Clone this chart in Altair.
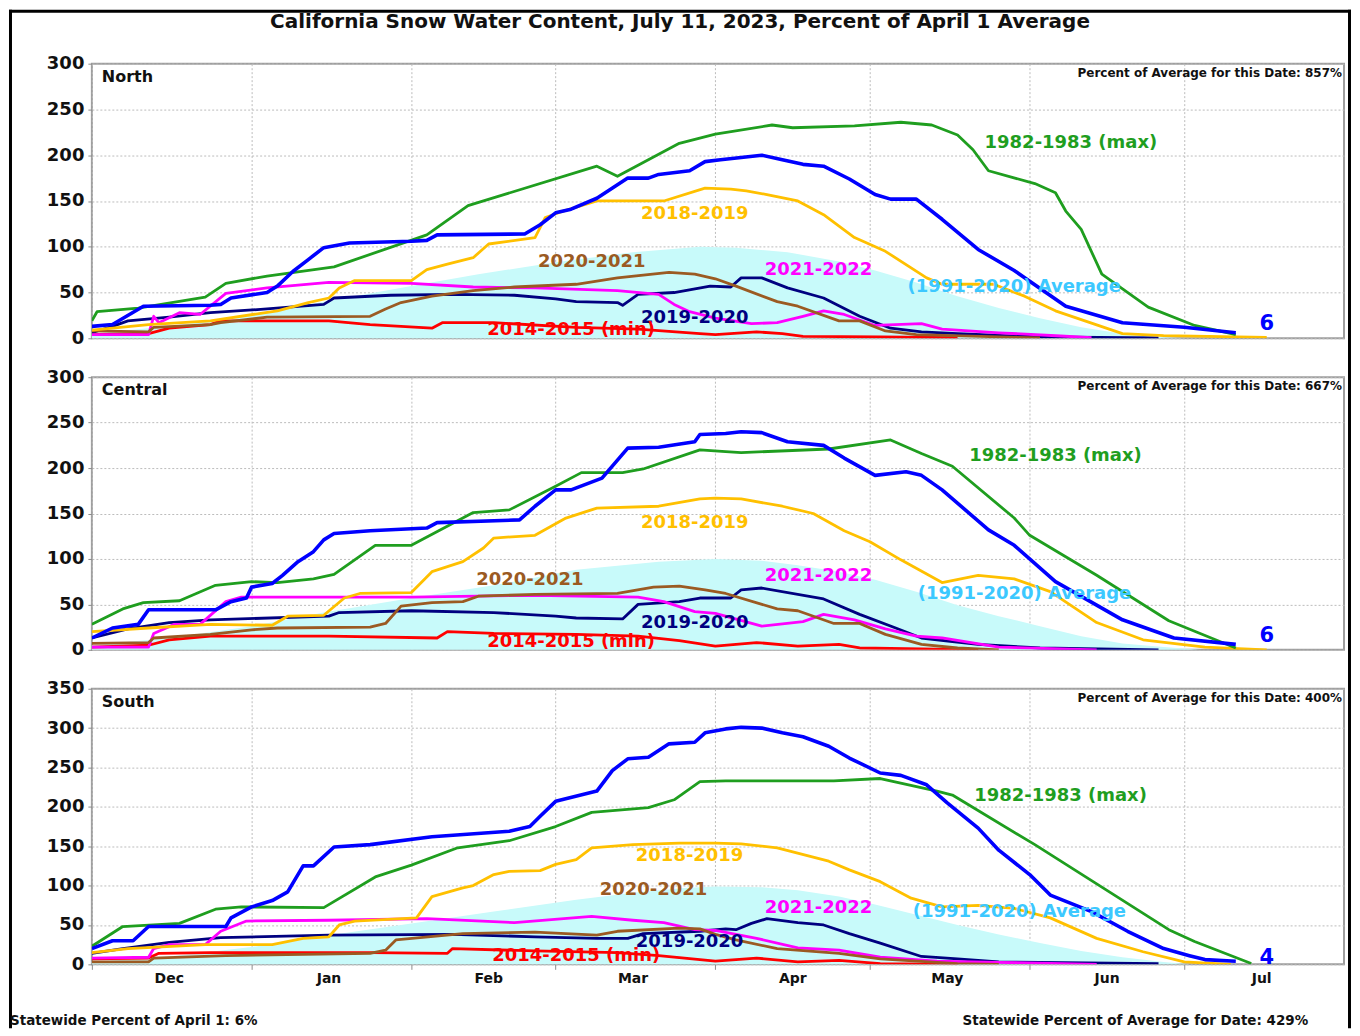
import json
import altair as alt
import pandas as pd

# ---------------- text ----------------
TITLE = "California Snow Water Content, July 11, 2023, Percent of April 1 Average"
FOOT_LEFT = "Statewide Percent of April 1: 6%"
FOOT_RIGHT = "Statewide Percent of Average for Date: 429%"

# x axis: days since Dec 1 (water-year calendar), month starts and labels
MONTH_LABELS = ["Dec", "Jan", "Feb", "Mar", "Apr", "May", "Jun", "Jul"]
MONTH_START_DAYS = [0, 31, 62, 90, 121, 151, 182, 212]
SEASON_DAYS = 243

MAX_NAME = "1982-1983 (max)"
Y1819 = "2018-2019"
Y2021 = "2020-2021"
Y2122 = "2021-2022"
Y1920 = "2019-2020"
MIN_NAME = "2014-2015 (min)"
CUR_NAME = "2022-2023"
AVG_NAME = "(1991-2020) Average"

# ---------------- North (day, percent of April 1 average) ----------------
N_MAX = [(0, 19), (1, 29), (9, 33), (22, 45), (26, 60), (34, 68), (47, 78), (65, 113), (73, 145),
         (98, 188), (102, 177), (114, 213), (121, 223), (132, 233), (136, 230), (148, 232), (157, 236),
         (163, 233), (168, 222), (171, 206), (174, 183), (183, 169), (187, 159), (189, 139), (192, 119),
         (196, 70), (205, 34), (214, 14), (222, 4)]
N_CUR = [(0, 13), (4, 15), (10, 35), (23, 36), (25, 37), (27, 44), (34, 50), (36, 57), (39, 73), (42, 86),
         (45, 99), (50, 104), (62, 106), (65, 107), (67, 113), (84, 114), (87, 124), (90, 137), (93, 141),
         (98, 153), (104, 175), (108, 175), (110, 179), (116, 183), (119, 193), (122, 195), (130, 200),
         (134, 195), (138, 190), (142, 188), (147, 174), (152, 157), (155, 152), (160, 152), (165, 130),
         (172, 97), (179, 74), (189, 35), (200, 17), (212, 12), (222, 6)]
N_1819 = [(0, 9), (11, 15), (23, 19), (36, 30), (42, 39), (46, 44), (48, 55), (51, 63), (62, 63), (65, 75),
          (69, 81), (74, 88), (77, 103), (86, 110), (88, 132), (91, 138), (98, 150), (111, 150), (119, 164),
          (124, 163), (127, 161), (131, 157), (137, 150), (142, 135), (148, 110), (154, 95), (162, 66),
          (165, 59), (175, 59), (181, 46), (187, 30), (200, 5), (208, 3), (228, 1)]
N_2021 = [(0, 8), (11, 7), (12, 12), (23, 15), (25, 17), (34, 23), (54, 24), (57, 32), (60, 39), (66, 46),
          (74, 52), (82, 56), (94, 59), (102, 66), (112, 72), (117, 70), (121, 65), (125, 57), (133, 40),
          (137, 35), (145, 19), (149, 19), (154, 8), (160, 4), (176, 1.5), (184, 0.5)]
N_2122 = [(0, 4), (11, 4), (12, 24), (13, 17), (17, 28), (21, 26), (26, 49), (34, 55), (46, 61), (62, 60),
          (74, 56), (86, 55), (102, 52), (110, 48), (113, 37), (116, 29), (121, 22), (128, 16), (133, 17),
          (138, 24), (142, 30), (146, 26), (152, 14), (161, 16), (165, 10), (176, 6), (188, 2.5), (194, 0.7)]
N_1920 = [(0, 6), (4, 13), (7, 19), (15, 23), (23, 28), (34, 32), (45, 37), (47, 44), (58, 47), (70, 48),
          (82, 47), (90, 43), (94, 40), (102, 39), (103, 36), (106, 48), (113, 50), (120, 57), (124, 56),
          (126, 66), (130, 66), (135, 55), (142, 44), (149, 24), (155, 11), (161, 7), (168, 5), (184, 1.5),
          (207, 0.5)]
N_MIN = [(0, 4), (11, 5), (15, 11), (23, 15), (25, 19), (46, 19), (54, 15), (66, 11), (68, 17), (78, 17),
         (94, 12), (106, 10), (118, 5), (121, 4), (129, 7), (134, 5), (138, 2), (153, 1.5), (168, 0.7)]
N_AVG = [(0, 5), (15, 13), (31, 25), (45, 40), (62, 57), (75, 70), (90, 83), (105, 94), (118, 100),
         (125, 99), (135, 94), (145, 84), (152, 74), (160, 61), (168, 46), (176, 33), (184, 22), (192, 12),
         (200, 5), (208, 1), (212, 0)]

# ---------------- Central ----------------
C_MAX = [(0, 28), (6, 45), (10, 52), (17, 54), (24, 71), (31, 75), (36, 74), (43, 78), (47, 83), (55, 115),
         (62, 115), (74, 151), (81, 154), (90, 180), (95, 195), (103, 195), (107, 199), (118, 220), (123, 218),
         (126, 217), (143, 221), (155, 231), (161, 216), (167, 202), (179, 145), (182, 126), (195, 82),
         (209, 32), (222, 2)]
C_CUR = [(0, 13), (4, 24), (9, 28), (11, 44), (24, 44), (27, 53), (30, 57), (31, 69), (35, 73), (37, 82),
         (40, 97), (43, 108), (45, 121), (47, 128), (54, 131), (65, 134), (67, 140), (83, 143), (86, 158),
         (90, 176), (93, 176), (99, 189), (104, 222), (110, 223), (117, 229), (118, 237), (123, 238),
         (126, 240), (130, 239), (135, 229), (142, 225), (146, 211), (152, 192), (158, 196), (161, 192),
         (165, 176), (174, 132), (179, 115), (187, 75), (200, 33), (210, 13), (222, 6)]
C_1819 = [(0, 20), (11, 24), (23, 28), (35, 27), (38, 37), (45, 38), (49, 57), (52, 62), (62, 63), (66, 86),
          (72, 97), (76, 112), (78, 123), (86, 126), (92, 145), (98, 156), (110, 158), (118, 166), (121, 167),
          (126, 166), (134, 158), (140, 150), (146, 131), (151, 119), (157, 99), (165, 74), (172, 82),
          (179, 78), (186, 64), (195, 30), (204, 11), (216, 3), (228, 0)]
C_2021 = [(0, 7), (11, 8), (12, 13), (23, 17), (31, 22), (36, 24), (54, 25), (57, 29), (60, 48), (66, 52),
          (72, 53), (75, 59), (86, 61), (102, 62), (109, 69), (114, 70), (119, 66), (123, 62), (133, 45),
          (137, 43), (144, 29), (149, 29), (154, 17), (161, 6), (168, 2), (176, 0)]
C_2122 = [(0, 3), (11, 3), (12, 18), (16, 28), (21, 28), (26, 53), (29, 58), (62, 58), (86, 60), (106, 58),
          (111, 53), (117, 42), (121, 40), (130, 26), (138, 31), (142, 39), (148, 33), (154, 23), (160, 15),
          (165, 13), (176, 3), (188, 1), (195, 0)]
C_1920 = [(0, 13), (7, 23), (15, 30), (23, 33), (46, 37), (48, 41), (62, 43), (78, 41), (90, 37), (94, 35),
          (103, 34), (106, 50), (114, 53), (118, 57), (124, 57), (126, 66), (130, 68), (142, 56), (149, 39),
          (156, 24), (161, 13), (167, 9), (172, 6), (184, 2), (207, 0)]
C_MIN = [(0, 3), (11, 5), (15, 11), (23, 15), (46, 15), (67, 13), (69, 20), (78, 18), (94, 17), (106, 15),
         (114, 10), (121, 4), (129, 8), (137, 4), (145, 6), (149, 2), (161, 1), (172, 0)]
C_AVG = [(0, 5), (15, 13), (31, 26), (45, 41), (62, 57), (78, 71), (94, 88), (110, 97), (121, 100),
         (130, 98), (137, 93), (145, 86), (152, 77), (160, 64), (168, 49), (176, 37), (184, 26), (192, 15),
         (200, 7), (208, 3), (215, 0)]

# ---------------- South ----------------
S_MAX = [(0, 23), (6, 48), (17, 52), (24, 70), (29, 73), (45, 72), (55, 111), (62, 126), (71, 148), (81, 157),
         (90, 175), (97, 193), (108, 199), (113, 209), (118, 232), (123, 233), (144, 233), (153, 236),
         (164, 220), (167, 215), (183, 152), (209, 44), (214, 29), (225, 1)]
S_CUR = [(0, 20), (4, 30), (8, 30), (11, 48), (26, 48), (27, 59), (31, 73), (35, 81), (38, 92), (41, 125),
         (43, 125), (47, 149), (54, 152), (66, 162), (81, 169), (85, 175), (87, 188), (90, 207), (98, 220),
         (101, 246), (104, 261), (108, 263), (112, 280), (117, 282), (119, 294), (123, 299), (126, 301),
         (130, 300), (134, 294), (138, 289), (143, 277), (147, 262), (153, 243), (157, 240), (162, 228),
         (166, 205), (172, 173), (176, 145), (182, 114), (186, 88), (194, 67), (201, 42), (208, 20),
         (213, 11), (216, 6), (222, 4)]
S_1819 = [(0, 15), (7, 20), (22, 25), (35, 25), (41, 33), (46, 35), (48, 50), (51, 55), (63, 59), (66, 86),
          (72, 97), (74, 100), (78, 114), (81, 118), (87, 119), (90, 127), (94, 133), (97, 148), (105, 152),
          (114, 154), (121, 154), (126, 153), (133, 148), (143, 131), (147, 120), (153, 105), (159, 84),
          (165, 73), (172, 75), (179, 71), (186, 59), (195, 33), (204, 16), (212, 3), (221, 0)]
S_2021 = [(0, 3), (11, 3), (12, 8), (26, 11), (54, 14), (57, 18), (59, 31), (72, 39), (86, 41), (98, 37),
          (102, 42), (114, 46), (118, 45), (121, 38), (125, 31), (133, 20), (145, 14), (153, 7), (168, 1),
          (176, 0)]
S_2122 = [(0, 8), (11, 9), (12, 20), (15, 25), (22, 25), (25, 42), (30, 55), (46, 56), (65, 58), (82, 53),
          (97, 61), (105, 56), (111, 53), (117, 44), (121, 43), (129, 33), (137, 21), (145, 18), (153, 9),
          (164, 4), (176, 2.5), (195, 0)]
S_1920 = [(0, 14), (6, 20), (15, 28), (25, 34), (46, 37), (70, 38), (86, 35), (98, 33), (104, 33), (107, 39),
          (118, 42), (123, 45), (125, 44), (128, 52), (131, 58), (137, 53), (142, 50), (147, 39), (153, 27),
          (161, 10), (168, 7), (176, 3), (207, 1)]
S_MIN = [(0, 7), (11, 8), (13, 14), (23, 15), (54, 15), (69, 14), (70, 20), (86, 17), (102, 15), (110, 11),
         (118, 6), (121, 4), (129, 8), (137, 3), (145, 5), (153, 1), (168, 0)]
S_AVG = [(0, 3), (15, 10), (31, 22), (45, 36), (62, 52), (78, 67), (94, 82), (105, 91), (115, 97), (121, 99),
         (130, 98), (137, 94), (145, 86), (152, 76), (160, 63), (168, 50), (176, 38), (184, 27), (192, 17),
         (200, 9), (208, 3), (213, 0)]

# series label anchors (label, day, value)
N_LABELS = [(MAX_NAME, 190, 213), (Y1819, 117, 136), (Y2021, 97, 83), (Y2122, 141, 75),
            (AVG_NAME, 179, 56), (Y1920, 117, 22), (MIN_NAME, 93, 9)]
C_LABELS = [(MAX_NAME, 187, 213), (Y1819, 117, 139), (Y2021, 85, 77), (Y2122, 141, 81),
            (AVG_NAME, 181, 61), (Y1920, 117, 29), (MIN_NAME, 93, 9)]
S_LABELS = [(MAX_NAME, 188, 214), (Y1819, 116, 138), (Y2021, 109, 94), (Y2122, 141, 71),
            (AVG_NAME, 180, 66), (Y1920, 116, 28), (MIN_NAME, 94, 11)]
# current-year end value labels (text, day, value)
N_END = ("6", 228, 16)
C_END = ("6", 228, 15)
S_END = ("4", 228, 8)

N_PCT = "Percent of Average for this Date: 857%"
C_PCT = "Percent of Average for this Date: 667%"
S_PCT = "Percent of Average for this Date: 400%"

# ---------------- styles ----------------
FONT = "DejaVu Sans"
COLORS = {
    MAX_NAME: "#1f9e1f", Y1819: "#ffc000", Y2021: "#9b5a22", Y2122: "#ff00ff",
    Y1920: "#000080", MIN_NAME: "#ff0000", CUR_NAME: "#0000ff", AVG_NAME: "#3cc8ff",
}
AVG_FILL = "#c8fafa"
WIDTHS = {MAX_NAME: 2.8, Y1819: 2.8, Y2021: 2.8, Y2122: 2.8, Y1920: 2.8, MIN_NAME: 2.8, CUR_NAME: 3.6}
DRAW_ORDER = [MIN_NAME, Y1920, Y2122, Y2021, Y1819, MAX_NAME, CUR_NAME]
GRID = "#bcbcbc"
PLOT_W = 1254
SPACING = 39

label_expr = "{}[indexof({}, datum.value)]".format(json.dumps(MONTH_LABELS), json.dumps(MONTH_START_DAYS))


def to_df(pairs, series):
    return pd.DataFrame({"day": [p[0] for p in pairs],
                         "value": [float(p[1]) for p in pairs],
                         "series": series})


def blank():
    return alt.Chart(alt.Data(values=[{}]))


def make_panel(name, pct, ymax, height, series, avg, labels, end, bottom_axis, top_extra=None, bottom_extra=None):
    df = pd.concat([to_df(avg, AVG_NAME)] + [to_df(series[s], s) for s in DRAW_ORDER], ignore_index=True)
    xaxis = alt.Axis(values=MONTH_START_DAYS, grid=True, gridColor=GRID, gridDash=[2, 2], gridWidth=1,
                     domain=False, labels=bottom_axis, ticks=bottom_axis, tickColor="#8c8c8c", tickSize=5,
                     labelExpr=label_expr, labelOffset=77, labelPadding=2, labelFlush=False, labelFont=FONT,
                     labelFontWeight="bold", labelFontSize=14, labelColor="#111111", title=None)
    yaxis = alt.Axis(values=list(range(0, ymax + 1, 50)), grid=True, gridColor=GRID, gridDash=[2, 2],
                     gridWidth=1, domain=False, tickColor="#8c8c8c", tickSize=4, labelPadding=4,
                     labelFont=FONT, labelFontWeight="bold", labelFontSize=18, labelColor="#111111",
                     title=None, minExtent=82, maxExtent=82)
    x = alt.X("day:Q", scale=alt.Scale(domain=[0, SEASON_DAYS], nice=False, zero=False), axis=xaxis)
    y = alt.Y("value:Q", scale=alt.Scale(domain=[0, ymax], nice=False), axis=yaxis)
    base = alt.Chart(df).encode(x=x, y=y)

    layers = [base.transform_filter(alt.datum.series == AVG_NAME).mark_area(color=AVG_FILL, opacity=1)]
    for s in DRAW_ORDER:
        layers.append(base.transform_filter(alt.datum.series == s).mark_line(
            color=COLORS[s], strokeWidth=WIDTHS[s], strokeJoin="round", clip=True))

    lab_df = pd.DataFrame({"label": [l[0] for l in labels], "day": [l[1] for l in labels],
                           "value": [l[2] for l in labels], "color": [COLORS[l[0]] for l in labels]})
    layers.append(alt.Chart(lab_df).mark_text(font=FONT, fontWeight="bold", fontSize=18).encode(
        x=x, y=y, text="label:N", color=alt.Color("color:N", scale=None)))

    end_df = pd.DataFrame({"label": [end[0]], "day": [end[1]], "value": [end[2]]})
    layers.append(alt.Chart(end_df).mark_text(font=FONT, fontWeight="bold", fontSize=21,
                                              color=COLORS[CUR_NAME], clip=True).encode(
        x=x, y=y, text="label:N"))

    layers.append(blank().mark_text(font=FONT, fontWeight="bold", fontSize=16, align="left",
                                    baseline="middle", color="#111111").encode(
        x=alt.value(10), y=alt.value(13), text=alt.value(name)))
    layers.append(blank().mark_text(font=FONT, fontWeight="bold", fontSize=12, align="right",
                                    baseline="middle", color="#111111").encode(
        x=alt.value(PLOT_W - 2), y=alt.value(9), text=alt.value(pct)))
    if top_extra:
        layers.extend(top_extra(height))
    if bottom_extra:
        layers.extend(bottom_extra(height))
    return alt.layer(*layers).properties(width=PLOT_W, height=height)


def north_extra(h):
    # outer picture frame (filled strips, so their bounds are exact)
    left, top, right, bottom, t = -83, -54, 1261, 966, 3
    return [
        blank().mark_text(font=FONT, fontWeight="bold", fontSize=20, align="center", baseline="middle",
                          color="#111111").encode(x=alt.value(589), y=alt.value(-42), text=alt.value(TITLE)),
        blank().mark_rect(color="black").encode(
            x=alt.value(left), x2=alt.value(right), y=alt.value(top), y2=alt.value(top + t)),
        blank().mark_rect(color="black").encode(
            x=alt.value(left), x2=alt.value(left + t), y=alt.value(top), y2=alt.value(bottom)),
        blank().mark_rect(color="black").encode(
            x=alt.value(right - t), x2=alt.value(right), y=alt.value(top), y2=alt.value(bottom)),
    ]


def south_extra(h):
    return [
        blank().mark_text(font=FONT, fontWeight="bold", fontSize=13.5, align="left", baseline="middle",
                          color="#111111").encode(x=alt.value(-82), y=alt.value(h + 57),
                                                  text=alt.value(FOOT_LEFT)),
        blank().mark_text(font=FONT, fontWeight="bold", fontSize=13.5, align="center", baseline="middle",
                          color="#111111").encode(x=alt.value(1045), y=alt.value(h + 57),
                                                  text=alt.value(FOOT_RIGHT)),
    ]


north = make_panel("North", N_PCT, 300, 275,
                   {MAX_NAME: N_MAX, Y1819: N_1819, Y2021: N_2021, Y2122: N_2122, Y1920: N_1920,
                    MIN_NAME: N_MIN, CUR_NAME: N_CUR}, N_AVG, N_LABELS, N_END, False, top_extra=north_extra)
central = make_panel("Central", C_PCT, 300, 273,
                     {MAX_NAME: C_MAX, Y1819: C_1819, Y2021: C_2021, Y2122: C_2122, Y1920: C_1920,
                      MIN_NAME: C_MIN, CUR_NAME: C_CUR}, C_AVG, C_LABELS, C_END, False)
south = make_panel("South", S_PCT, 350, 276,
                   {MAX_NAME: S_MAX, Y1819: S_1819, Y2021: S_2021, Y2122: S_2122, Y1920: S_1920,
                    MIN_NAME: S_MIN, CUR_NAME: S_CUR}, S_AVG, S_LABELS, S_END, True, bottom_extra=south_extra)

chart = alt.vconcat(north, central, south, spacing=SPACING, bounds="flush", padding=0).configure(
    font=FONT).configure_view(stroke="#9e9e9e", strokeWidth=2)

chart.save("out.html", embed_options={"renderer": "svg", "actions": False})
